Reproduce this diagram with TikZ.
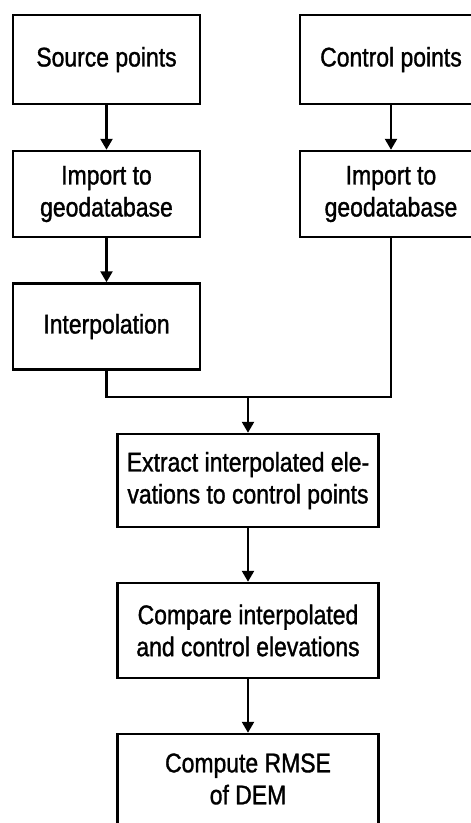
\documentclass[tikz,border=0pt]{standalone}
\usepackage{fontspec}
\setmainfont{Liberation Sans}[FakeStretch=0.85,FakeBold=1.2]
\usetikzlibrary{arrows.meta}
\begin{document}
\begin{tikzpicture}[x=1pt,y=1pt,
  box/.style={draw=black,line width=2.5pt,rectangle,align=center,inner sep=0pt,
    font=\fontsize{27}{32}\selectfont},
  arr/.style={line width=2.5pt,-{Triangle[width=12pt,length=11pt]}},
  ln/.style={line width=2.5pt}]
\useasboundingbox (0,0) rectangle (471,-823);
\fill[white] (0,0) rectangle (471,-823);
\node[box,minimum width=187,minimum height=89] (src) at (106.5,-59.5) {Source points};
\node[box,minimum width=182,minimum height=89] (ctl) at (391,-59.5) {Control points};
\node[box,minimum width=187,minimum height=86] (imp1) at (106.5,-194) {Import to\\geodatabase};
\node[box,minimum width=182,minimum height=86] (imp2) at (391,-194) {Import to\\geodatabase};
\node[box,minimum width=187,minimum height=86] (interp) at (106.5,-326.5) {Interpolation};
\node[box,minimum width=261,minimum height=93] (extract) at (248,-480.5) {Extract interpolated ele-\\vations to control points};
\node[box,minimum width=261,minimum height=95] (compare) at (248,-630.5) {Compare interpolated\\and control elevations};
\node[box,minimum width=261,minimum height=90] (rmse) at (248,-779) {Compute RMSE\\of DEM};
\coordinate (j) at (248,-397);
\draw[arr] (src) -- (imp1);
\draw[arr] (imp1) -- (interp);
\draw[arr] (ctl) -- (imp2);
\draw[ln] (interp.south) |- (j) -| (imp2.south);
\draw[arr] (j) -- (extract);
\draw[arr] (extract) -- (compare);
\draw[arr] (compare) -- (rmse);
\end{tikzpicture}
\end{document}
